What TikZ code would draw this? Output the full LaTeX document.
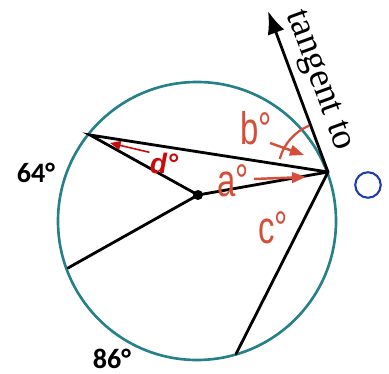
\documentclass[tikz,border=0pt]{standalone}
\usepackage{fontspec}
\setmainfont{Liberation Serif}
\newfontfamily\lblfont{Liberation Sans}
\newfontfamily\numfont{Carlito}
\usepackage{xcolor}
\usepackage{tikz}
\usetikzlibrary{arrows.meta,calc}
\definecolor{rimteal}{RGB}{38,128,138}
\definecolor{anglered}{RGB}{214,78,58}
\definecolor{deepred}{RGB}{200,10,10}
\definecolor{ringblue}{RGB}{30,60,170}

\begin{document}
\begin{tikzpicture}[x=0.02cm, y=0.02cm,
  chord/.style={line width=1.6pt, line cap=round},
  anglbl/.style={text=anglered, font=\fontsize{26}{26}\selectfont\lblfont, xscale=0.72, transform shape, inner sep=0pt},
  arcbl/.style={text=black, font=\fontsize{16}{16}\selectfont\numfont\bfseries, inner sep=0pt},
  angarrow/.style={draw=anglered, line width=1.4pt, -{Triangle[length=8pt,width=6pt]}}]
  \useasboundingbox (0,0) rectangle (389,373);
  % circle and its points
  \coordinate (Oc) at (197,152);
  \coordinate (P) at (328,201);
  \coordinate (A) at (90,238);
  \coordinate (B) at (68,105);
  \coordinate (C) at (236,19);
  \coordinate (T) at (268,362);
  \coordinate (D) at (198,178);
  \draw[rimteal, line width=1.5pt] (Oc) circle[radius=139];
  \draw[chord] (P) -- (A) -- (D) -- (B);
  \draw[chord] (P) -- (D);
  \draw[chord] (P) -- (C);
  \draw[chord, -{Latex[length=13pt,width=10pt]}] (P) -- (T);
  \fill (D) circle[radius=5];
  % angle labels
  \node[anglbl] (blbl) at (256,245) {b°};
  \node[anglbl] (albl) at (233,192) {a°};
  \node[anglbl] (clbl) at (273,145) {c°};
  \coordinate (btail) at (270,230);
  \coordinate (bhead) at (304,218);
  \coordinate (atail) at (254,194);
  \coordinate (ahead) at (306,196);
  \draw[angarrow] (btail) -- (bhead);
  \draw[angarrow] (atail) -- (ahead);
  \draw[anglered, line width=1.3pt] ($(P)+(112:50)$) arc[start angle=112, end angle=165, radius=50];
  \node[text=deepred, font=\fontsize{16}{16}\selectfont\lblfont\bfseries\itshape, inner sep=0pt] (dlbl) at (164,210) {d°};
  \coordinate (dhead) at (110,230);
  \draw[deepred, line width=0.9pt, -{Triangle[length=6pt,width=5pt]}] (dlbl.north west) -- (dhead);
  % arc measures
  \node[arcbl] (arc64) at (36,200) {64°};
  \node[arcbl] (arc86) at (112,14) {86°};
  % tangent label
  \node[rotate=-70, font=\fontsize{21}{21}\selectfont, inner sep=0pt] (tlbl) at (318,292) {tangent to};
  \node[circle, draw=ringblue, line width=1.2pt, minimum size=14.5pt, inner sep=0pt] (ring) at (368,188) {};
\end{tikzpicture}
\end{document}
